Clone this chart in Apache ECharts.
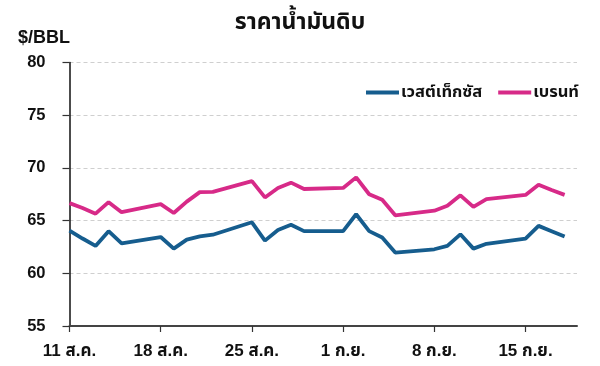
<!DOCTYPE html>
<html>
<head>
<meta charset="utf-8">
<script src="https://cdn.jsdelivr.net/npm/echarts@6/dist/echarts.min.js"></script>
<style>
html,body{margin:0;padding:0;background:#fff;}
#c{width:600px;height:366px;}
</style>
</head>
<body>
<div id="c"></div>
<script>
const dates = ['2025-08-11','2025-08-12','2025-08-13','2025-08-14','2025-08-15',
  '2025-08-18','2025-08-19','2025-08-20','2025-08-21','2025-08-22',
  '2025-08-25','2025-08-26','2025-08-27','2025-08-28','2025-08-29',
  '2025-09-01','2025-09-02','2025-09-03','2025-09-04','2025-09-05',
  '2025-09-08','2025-09-09','2025-09-10','2025-09-11','2025-09-12',
  '2025-09-15','2025-09-16','2025-09-17','2025-09-18'];
const wti = [64.06,63.3,62.6,64.0,62.84, 63.44,62.34,63.2,63.5,63.66, 64.84,63.1,64.1,64.6,64.0,
  64.0,65.6,64.0,63.4,61.97, 62.28,62.6,63.7,62.34,62.8, 63.3,64.5,64.0,63.5];
const brent = [66.66,66.2,65.66,66.75,65.8, 66.56,65.72,66.8,67.7,67.73, 68.75,67.2,68.1,68.6,68.0,
  68.1,69.1,67.5,66.97,65.5, 65.94,66.4,67.4,66.3,67.03, 67.44,68.4,67.9,67.44];
const seriesNames = ['เวสต์เท็กซัส','เบรนท์'];
const tickLabels = ['11 ส.ค.','18 ส.ค.','25 ส.ค.','1 ก.ย.','8 ก.ย.','15 ก.ย.'];
const title = 'ราคาน้ำมันดิบ';
const unit = '$/BBL';

const start = Date.UTC(2025,7,11);
const dayOf = s => { const p = s.split('-').map(Number); return (Date.UTC(p[0],p[1]-1,p[2]) - start)/86400000; };
const xs = dates.map(dayOf);
const tickVals = tickLabels.map((_,i)=>i*7);
const FONT = '"Liberation Sans","Noto Sans Thai",Arial,sans-serif';

const chart = echarts.init(document.getElementById('c'), null, {renderer:'canvas'});
chart.setOption({
  animation:false,
  backgroundColor:'#fff',
  title:{text:title,left:'center',top:6,textStyle:{fontFamily:FONT,fontSize:23,fontWeight:'bold',color:'#111'}},
  graphic:[{type:'text',left:18,top:29,style:{text:unit,fontFamily:FONT,fontSize:18,fontWeight:'bold',fill:'#111'}}],
  legend:{
    top:79,right:16,itemWidth:33,itemHeight:4,itemGap:16,icon:'rect',
    textStyle:{fontFamily:FONT,fontSize:16.5,fontWeight:'bold',color:'#111',padding:[0,0,0,-3]},
    data:seriesNames
  },
  grid:{left:69.5,right:23,top:62.5,bottom:40},
  xAxis:{
    type:'value',min:0,max:38.95,
    axisLine:{show:true,lineStyle:{color:'#444',width:2}},
    axisTick:{show:true,length:6,customValues:tickVals,lineStyle:{color:'#333',width:1.2}},
    axisLabel:{customValues:tickVals,margin:17,fontFamily:FONT,fontSize:17,fontWeight:'bold',color:'#111',
      formatter:v=>tickLabels[Math.round(v/7)]||''},
    splitLine:{show:false}
  },
  yAxis:{
    type:'value',min:55,max:80,interval:5,
    axisLine:{show:true,lineStyle:{color:'#111',width:1.5}},
    axisTick:{show:true,length:7,lineStyle:{color:'#333',width:1.2}},
    axisLabel:{margin:24,fontFamily:FONT,fontSize:16.5,fontWeight:'bold',color:'#111'},
    splitLine:{show:true,lineStyle:{color:'#cfcfcf',type:[4,3],width:1}}
  },
  series:[
    {name:seriesNames[0],type:'line',symbol:'none',data:xs.map((x,i)=>[x,wti[i]]),
      lineStyle:{color:'#165d8e',width:3.8},itemStyle:{color:'#165d8e'}},
    {name:seriesNames[1],type:'line',symbol:'none',data:xs.map((x,i)=>[x,brent[i]]),
      lineStyle:{color:'#d72a88',width:3.8},itemStyle:{color:'#d72a88'}}
  ]
});
</script>
</body>
</html>
